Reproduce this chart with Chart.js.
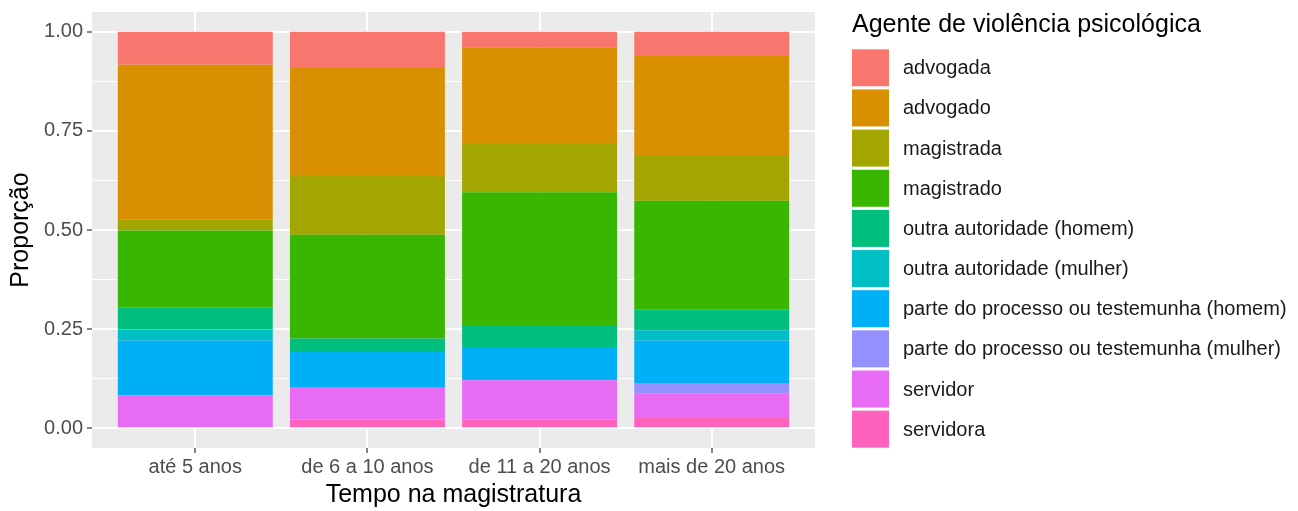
<!DOCTYPE html>
<html lang="pt">
<head>
<meta charset="UTF-8">
<title>Agente de violência psicológica</title>
<script src="https://cdn.jsdelivr.net/npm/chart.js"></script>
<style>
  body { margin: 0; background: #ffffff; }
  canvas { display: block; }
</style>
</head>
<body>
<canvas id="chart" width="1298" height="511"></canvas>
<script>
// categorias do eixo x
const tempo = ['até 5 anos', 'de 6 a 10 anos', 'de 11 a 20 anos', 'mais de 20 anos'];

// proporções (uma lista por agente, na ordem de tempo)
const advogada      = [0.083, 0.091, 0.039, 0.061];
const advogado      = [0.390, 0.273, 0.244, 0.250];
const magistrada    = [0.028, 0.148, 0.122, 0.115];
const magistrado    = [0.195, 0.262, 0.337, 0.275];
const outraHomem    = [0.055, 0.034, 0.053, 0.052];
const outraMulher   = [0.028, 0.000, 0.000, 0.026];
const parteHomem    = [0.138, 0.090, 0.084, 0.107];
const parteMulher   = [0.000, 0.000, 0.000, 0.027];
const servidor      = [0.083, 0.080, 0.099, 0.061];
const servidora     = [0.000, 0.022, 0.022, 0.026];

const yTicks = [0, 0.125, 0.25, 0.375, 0.5, 0.625, 0.75, 0.875, 1];

// legenda na ordem do ggplot (de cima para baixo)
const agentes = [
  ['advogada', advogada, '#F8766D'],
  ['advogado', advogado, '#D89000'],
  ['magistrada', magistrada, '#A3A500'],
  ['magistrado', magistrado, '#39B600'],
  ['outra autoridade (homem)', outraHomem, '#00BF7D'],
  ['outra autoridade (mulher)', outraMulher, '#00BFC4'],
  ['parte do processo ou testemunha (homem)', parteHomem, '#00B0F6'],
  ['parte do processo ou testemunha (mulher)', parteMulher, '#9590FF'],
  ['servidor', servidor, '#E76BF3'],
  ['servidora', servidora, '#FF62BC']
];

// chart.js empilha de baixo para cima, entao invertemos
const datasets = agentes.slice().reverse().map(([nome, vals, cor]) => ({
  label: nome,
  data: vals.map((v, i) => ({ x: i + 1, y: v })),
  backgroundColor: cor,
  borderWidth: 0,
  categoryPercentage: 1,
  barPercentage: 0.9
}));

const fundoPainel = {
  id: 'fundoPainel',
  beforeDraw(chart) {
    const { ctx, chartArea: a } = chart;
    ctx.save();
    ctx.fillStyle = '#EBEBEB';
    ctx.fillRect(a.left, a.top, a.right - a.left, a.bottom - a.top);
    ctx.restore();
  }
};

const legendaGG = {
  id: 'legendaGG',
  afterDraw(chart) {
    const ctx = chart.ctx;
    ctx.save();
    ctx.fillStyle = '#000000';
    ctx.font = '25px "Liberation Sans", Arial, sans-serif';
    ctx.textBaseline = 'alphabetic';
    ctx.fillText('Agente de violência psicológica', 852, 32);
    ctx.font = '20px "Liberation Sans", Arial, sans-serif';
    ctx.textBaseline = 'middle';
    agentes.forEach(([nome, , cor], i) => {
      const y = 49.3 + i * 40.15;
      ctx.fillStyle = cor;
      ctx.fillRect(852, y, 37, 37);
      ctx.fillStyle = '#1A1A1A';
      ctx.fillText(nome, 903, y + 19.5);
    });
    ctx.restore();
  }
};

new Chart(document.getElementById('chart').getContext('2d'), {
  type: 'bar',
  data: { datasets: datasets },
  options: {
    responsive: false,
    animation: false,
    layout: { padding: { left: 0, top: 12, right: 1298 - 815, bottom: 0 } },
    plugins: { legend: { display: false }, tooltip: { enabled: false } },
    scales: {
      x: {
        type: 'linear',
        stacked: true,
        min: 0.4,
        max: 4.6,
        offset: false,
        afterBuildTicks: s => { s.ticks = [1, 2, 3, 4].map(v => ({ value: v })); },
        afterFit: s => { s.height = 63; s.paddingLeft = 0; s.paddingRight = 0; },
        border: { display: false },
        grid: {
          offset: false,
          color: '#FFFFFF',
          lineWidth: 2,
          tickColor: '#333333',
          tickLength: 5,
          tickWidth: 1.2
        },
        ticks: {
          padding: 2,
          color: '#4D4D4D',
          font: { family: '"Liberation Sans", Arial, sans-serif', size: 20 },
          callback: v => tempo[v - 1]
        },
        title: {
          display: true,
          text: 'Tempo na magistratura',
          color: '#000000',
          font: { family: '"Liberation Sans", Arial, sans-serif', size: 25 },
          padding: { top: 0, bottom: 1 }
        }
      },
      y: {
        stacked: true,
        min: -0.05,
        max: 1.05,
        afterBuildTicks: s => { s.ticks = yTicks.map(v => ({ value: v })); },
        afterFit: s => { s.width = 92; s.paddingTop = 0; s.paddingBottom = 0; },
        border: { display: false },
        grid: {
          color: '#FFFFFF',
          lineWidth: c => (c.tick && c.tick.value % 0.25 === 0 ? 2 : 1),
          tickColor: c => (c.tick && c.tick.value % 0.25 === 0 ? '#333333' : 'rgba(0,0,0,0)'),
          tickLength: 5,
          tickWidth: 1.2
        },
        ticks: {
          padding: 4,
          color: '#4D4D4D',
          font: { family: '"Liberation Sans", Arial, sans-serif', size: 20 },
          callback: v => (v % 0.25 === 0 ? v.toFixed(2) : '')
        },
        title: {
          display: true,
          text: 'Proporção',
          color: '#000000',
          font: { family: '"Liberation Sans", Arial, sans-serif', size: 25 },
          padding: { top: 6, bottom: 0 }
        }
      }
    }
  },
  plugins: [fundoPainel, legendaGG]
});
</script>
</body>
</html>
